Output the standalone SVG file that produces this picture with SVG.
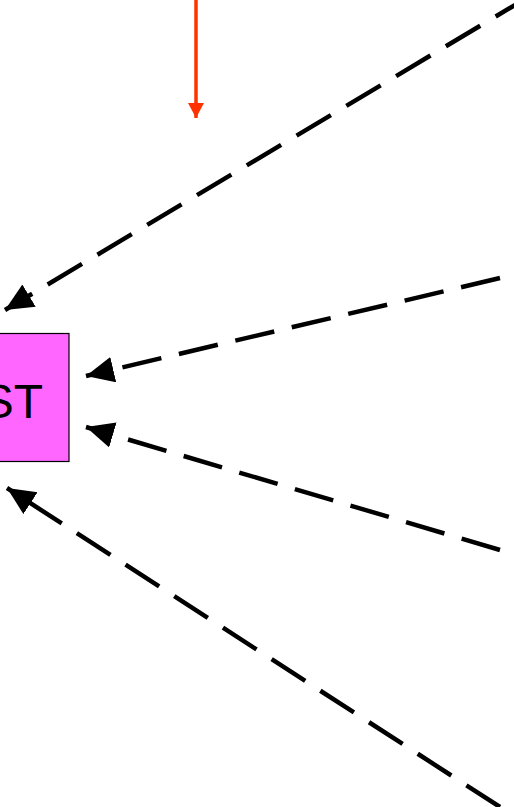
<svg xmlns="http://www.w3.org/2000/svg" width="514" height="807" viewBox="0 0 514 807">
  <style>
    .dash { fill: none; stroke: #000; stroke-width: 4.5; stroke-dasharray: 40 18; marker-end: url(#blackHead); }
    .label { font-family: "Liberation Sans", Arial, sans-serif; font-size: 48px; fill: #000; }
  </style>
  <defs>
    <marker id="blackHead" markerUnits="userSpaceOnUse" markerWidth="32" markerHeight="28" refX="28" refY="13" orient="auto" viewBox="0 0 32 28">
      <path d="M0,0 L28,13 L0,26 Z" fill="#000"/>
    </marker>
    <marker id="redHead" markerUnits="userSpaceOnUse" markerWidth="18" markerHeight="18" refX="15" refY="8" orient="auto" viewBox="0 0 18 18">
      <path d="M0,0 L15,8 L0,16 Z" fill="#FF3300"/>
    </marker>
  </defs>

  <g id="node-st">
    <rect x="-40" y="333.5" width="109" height="128" fill="#FF66FF" stroke="#000" stroke-width="1.2"/>
    <text class="label" x="43" y="418" text-anchor="end">ST</text>
  </g>

  <g id="connectors">
    <line x1="196" y1="-2" x2="196" y2="118" stroke="#FF3300" stroke-width="3.5" marker-end="url(#redHead)"/>
    <path class="dash" d="M530,-4 L5,310"/>
    <path class="dash" d="M500,278 L86,376"/>
    <path class="dash" d="M500,550 L86,427"/>
    <path class="dash" d="M500,807 L7,488"/>
  </g>
</svg>
